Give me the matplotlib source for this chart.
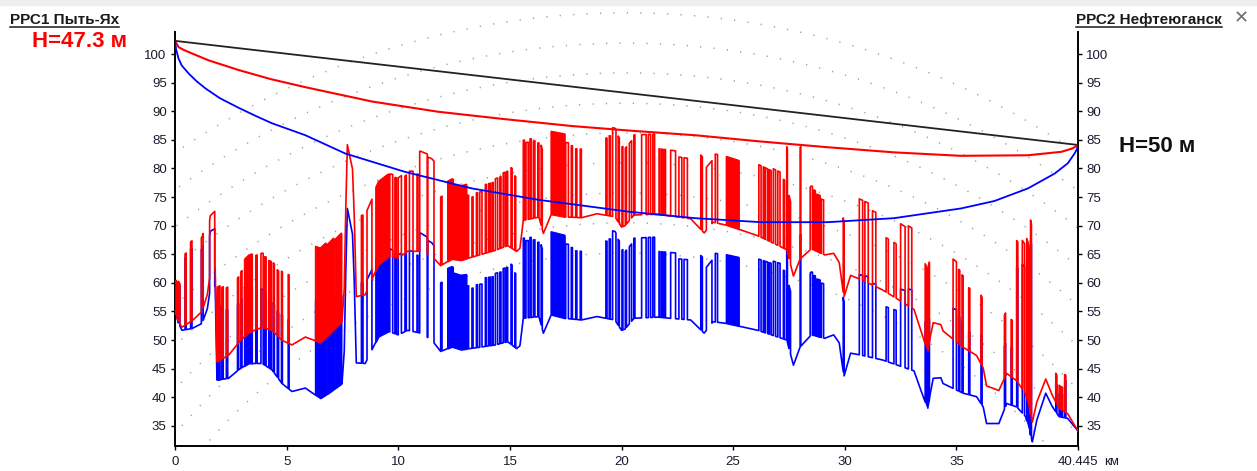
import numpy as np
import matplotlib
matplotlib.use("Agg")
import matplotlib.pyplot as plt
from matplotlib.patches import Arc, Rectangle
from matplotlib.lines import Line2D

plt.rcParams['font.family'] = ['Liberation Sans', 'DejaVu Sans']

# ---- data ----
PATH_KM = 40.445
H_LEFT, H_RIGHT = 47.3, 50          # antenna heights, m
BULGE_DIV = 22.65                   # d1*d2/BULGE_DIV -> earth bulge, m

# terrain (flat earth), km / m
GROUND_KM = [
    0.0, 0.15, 0.31, 0.76, 1.21, 1.45, 1.58, 1.8, 1.88, 2.4,
    2.85, 3.3, 3.9, 4.34, 4.79, 5.24, 5.84, 6.28, 6.51, 6.88,
    7.48, 7.58, 7.65, 7.72, 7.82, 7.95, 8.03, 8.12, 8.52, 8.82,
    9.12, 9.57, 9.99, 10.43, 11.0, 11.5, 11.9, 12.4, 12.8, 13.4,
    14.3, 14.9, 15.3, 15.45, 15.6, 16.3, 16.5, 16.85, 17.45, 18.2,
    18.9, 19.7, 20.0, 20.15, 20.56, 21.6, 23.1, 23.7, 24.1, 24.7,
    26.1, 27.4, 27.7, 28.0, 28.5, 29.1, 29.5, 29.75, 29.96, 30.26,
    30.68, 31.7, 33.1, 33.4, 33.7, 33.96, 34.3, 34.4, 35.3, 35.9,
    36.2, 36.35, 36.9, 37.25, 37.7, 38.1, 38.4, 38.6, 39.0, 39.3,
    39.6, 39.98, 40.445]
GROUND_M = [
    55.0, 53.0, 51.7, 52.0, 52.9, 55.5, 59.0, 59.5, 43.0, 43.3,
    44.8, 45.9, 45.9, 44.8, 42.4, 41.0, 41.6, 40.4, 39.8, 40.7,
    42.4, 48.0, 62.0, 73.0, 71.0, 68.5, 60.0, 46.0, 45.9, 48.3,
    50.6, 51.5, 50.9, 51.7, 51.2, 50.0, 48.0, 48.8, 48.3, 48.6,
    49.1, 49.7, 48.5, 49.0, 53.8, 54.1, 51.2, 54.4, 53.8, 53.5,
    54.1, 53.5, 51.7, 51.9, 53.8, 54.0, 53.5, 51.2, 53.2, 52.9,
    51.7, 50.0, 45.6, 48.8, 50.9, 50.3, 50.9, 49.5, 43.6, 47.7,
    47.4, 46.5, 44.6, 41.3, 38.1, 43.3, 43.4, 42.4, 40.7, 40.1,
    38.3, 35.4, 35.4, 38.9, 38.3, 36.6, 32.2, 36.0, 40.7, 38.3,
    36.6, 36.3, 34.1]

# forest blocks: (start km, end km, height m)
FOREST_DENSE = [
    (1.90, 2.00, 13), (3.12, 3.45, 13.5), (4.20, 4.30, 12),
    (6.30, 6.75, 16.5), (6.80, 7.10, 16), (7.15, 7.45, 15.5),
    (9.00, 9.55, 14.5), (12.22, 12.45, 14), (12.50, 13.05, 13),
    (16.85, 17.45, 14.5), (24.70, 25.25, 12), (28.75, 28.88, 10),
    (33.60, 33.78, 14), (38.15, 38.30, 28),
]
FOREST_SPARSE = [
    (0.05, 0.09, 6), (0.15, 0.22, 7), (0.45, 0.50, 12.5), (0.70, 0.76, 14),
    (1.18, 1.26, 13), (1.55, 1.78, 10), (2.10, 2.16, 12.5), (2.30, 2.36, 12),
    (2.80, 2.85, 11.5), (2.95, 3.00, 12), (3.62, 3.68, 13), (3.85, 3.95, 13),
    (4.02, 4.08, 12.5), (4.40, 4.45, 12), (4.58, 4.64, 11.5), (4.77, 4.81, 12),
    (5.07, 5.11, 12), (8.35, 8.42, 14), (8.60, 8.82, 14), (9.62, 9.75, 14.5),
    (9.85, 9.92, 14), (10.00, 10.14, 14), (10.30, 10.36, 13.5), (10.50, 10.66, 14),
    (10.84, 10.88, 13.5), (10.96, 11.30, 17.5), (11.32, 11.60, 17), (11.90, 11.96, 12),
    (13.10, 13.15, 11), (13.30, 13.35, 10.5), (13.50, 13.55, 11), (13.65, 13.75, 11),
    (13.90, 13.95, 12), (14.05, 14.12, 12), (14.20, 14.25, 12), (14.35, 14.45, 12.5),
    (14.55, 14.60, 12.5), (14.70, 14.78, 13), (14.85, 14.90, 13), (15.05, 15.10, 14),
    (15.22, 15.26, 13), (15.60, 15.65, 14), (15.72, 15.82, 13.5), (15.90, 15.95, 14),
    (16.05, 16.12, 13.5), (16.25, 16.30, 13), (16.40, 16.45, 14), (17.50, 17.62, 13),
    (17.75, 17.80, 12.5), (17.95, 18.00, 12), (18.15, 18.20, 12), (19.30, 19.35, 13.5),
    (19.45, 19.50, 14), (19.60, 19.75, 15.5), (19.85, 19.90, 15), (20.02, 20.06, 14),
    (20.17, 20.22, 13.5), (20.35, 20.45, 13.5), (20.55, 20.60, 14), (20.90, 21.10, 14),
    (21.20, 21.30, 14), (21.40, 21.48, 14), (21.68, 21.72, 11.5), (21.80, 21.85, 11.5),
    (21.92, 21.97, 11.5), (22.20, 22.42, 11.5), (22.57, 22.70, 10.5), (22.80, 22.95, 10.5),
    (23.55, 23.62, 13), (23.80, 24.05, 11), (24.20, 24.30, 12), (26.15, 26.25, 12.5),
    (26.35, 26.40, 12.5), (26.45, 26.55, 12.5), (26.62, 26.70, 12.5), (26.80, 26.90, 13),
    (27.00, 27.10, 13), (27.25, 27.30, 12), (27.40, 27.43, 18), (27.50, 27.57, 11),
    (28.00, 28.03, 19.5), (28.45, 28.55, 11), (28.62, 28.68, 10.5), (28.95, 29.05, 9.5),
    (29.93, 29.97, 13), (30.65, 30.80, 14), (30.90, 31.05, 14), (31.24, 31.39, 13),
    (31.85, 31.95, 9.5), (32.20, 32.30, 9.5), (32.50, 32.70, 13.5), (32.85, 33.00, 14),
    (34.85, 35.00, 14), (35.10, 35.15, 13), (35.25, 35.30, 12.5), (35.55, 35.60, 11),
    (36.10, 36.15, 12), (37.15, 37.20, 11), (37.45, 37.50, 10), (37.70, 37.75, 24.5),
    (37.95, 38.05, 26), (38.32, 38.36, 34), (39.45, 39.50, 5), (39.60, 39.65, 4),
    (39.70, 39.75, 4), (39.85, 39.90, 6.5),
]

# clearance curves
RED_CURVE_KM = [0, 0.16, 0.4, 0.76, 1.5, 2.85, 4.3, 5.84, 8.82, 11.8, 14.8,
                17.8, 20.4, 23.3, 26.25, 29.24, 32.23, 35.2, 38.2, 39.7,
                40.2, 40.445]
RED_CURVE_M = [102.3, 101.2, 100.7, 100.1, 98.9, 97.2, 95.6, 94.2, 91.7, 89.9,
               88.6, 87.4, 86.6, 85.8, 84.7, 83.7, 82.8, 82.2, 82.3, 82.9,
               83.5, 84.1]
BLUE_CURVE_KM = [0, 0.05, 0.16, 0.3, 0.61, 0.95, 1.36, 2.0, 2.85, 3.6, 4.34,
                 5.84, 7.63, 10.3, 13.3, 16.3, 20.4, 23.3, 26.25, 29.24, 32.2,
                 35.2, 36.7, 38.2, 39.4, 39.99, 40.29, 40.4, 40.445]
BLUE_CURVE_M = [102.3, 100.8, 99.2, 98.0, 96.6, 95.3, 94.0, 92.3, 90.6, 89.2,
                87.9, 85.8, 82.6, 79.4, 76.5, 74.5, 72.4, 71.3, 70.6, 70.6,
                71.3, 73.0, 74.3, 76.5, 79.1, 80.9, 82.6, 83.4, 84.1]

X_TICKS = [0, 5, 10, 15, 20, 25, 30, 35, 40.445]
X_LABELS = ['0', '5', '10', '15', '20', '25', '30', '35', '40.445']
Y_TICKS = list(range(35, 101, 5))

# background arcs (tops, m)
ARC_TOPS = [107.2, 101.9, 96.7, 91.4, 86.2, 81.0, 75.7, 70.5, 65.2]
ARC_CENTER = (20.2, -32.2)
ARC_ASPECT = 5.72 / 22.33

RED = '#ff0000'
BLUE = '#0000ff'
TXT = '#1a1a2e'

# ---- figure ----
W, H = 1257, 471
fig = plt.figure(figsize=(W / 100, H / 100), dpi=100)
fig.patches.append(Rectangle((0, 1 - 5 / H), 1, 5 / H, transform=fig.transFigure,
                             color='#efefef', zorder=0))
ax = fig.add_axes([175 / W, 25 / H, 903 / W, 439 / H])
ax.set_xlim(0, PATH_KM)
ax.set_ylim(31.47, 108.22)

for top in ARC_TOPS:
    b = top - ARC_CENTER[1]
    a = b * ARC_ASPECT
    ax.add_patch(Arc(ARC_CENTER, 2 * a, 2 * b, theta1=0, theta2=180,
                     ls=(0, (0.8, 8)), lw=1.1, color='#a0a0a0', zorder=1))


def ground(x):
    return np.interp(x, GROUND_KM, GROUND_M)


def bulge(x):
    x = np.asarray(x, dtype=float)
    return x * (PATH_KM - x) / BULGE_DIV


stripes = sorted(FOREST_DENSE + FOREST_SPARSE)
pts = []
for gx, gy in zip(GROUND_KM, GROUND_M):
    h = 0
    for x0, x1, hh in stripes:
        if x0 < gx < x1:
            h = hh
    pts.append((gx, 1, gy + h))
for x0, x1, h in stripes:
    g0, g1 = ground(x0), ground(x1)
    pts += [(x0, 0, g0), (x0, 2, g0 + h), (x1, 0, g1 + h), (x1, 2, g1)]
pts.sort(key=lambda p: (p[0], p[1]))
px = np.array([p[0] for p in pts])
py = np.array([p[2] for p in pts])

for shift, color, z in ((0, BLUE, 3), (1, RED, 4)):
    off = bulge(px) * shift
    ax.plot(px, py + off, color=color, lw=1.2, zorder=z)
    for x0, x1, h in FOREST_DENSE:
        xs = np.array([x0] + [g for g in GROUND_KM if x0 < g < x1] + [x1])
        gy = ground(xs) + bulge(xs) * shift
        ax.fill_between(xs, gy, gy + h, color=color, lw=0.8, zorder=z)

ax.plot([0, PATH_KM], [GROUND_M[0] + H_LEFT, GROUND_M[-1] + H_RIGHT],
        color='#222222', lw=1.3, zorder=5)
ax.plot(RED_CURVE_KM, RED_CURVE_M, color=RED, lw=1.5, zorder=5)
ax.plot(BLUE_CURVE_KM, BLUE_CURVE_M, color=BLUE, lw=1.3, zorder=5)

# axes styling
ax.spines['top'].set_visible(False)
for s in ('left', 'right'):
    ax.spines[s].set_bounds(31.47, 103.8)
for s in ('left', 'right', 'bottom'):
    ax.spines[s].set_linewidth(1.4)
ax.set_yticks(Y_TICKS)
ax.set_xticks(X_TICKS)
ax.set_xticklabels(X_LABELS)
ax.tick_params(axis='y', left=True, right=True, labelleft=True, labelright=True,
               direction='out', length=3, width=1, pad=3, labelsize=9.5,
               labelcolor=TXT)
ax.tick_params(axis='x', direction='out', length=3, width=1, pad=4.5,
               labelsize=9.5, labelcolor=TXT)
ax.annotate('км', xy=(1, 0), xycoords='axes fraction', xytext=(26, -10),
            textcoords='offset pixels', ha='left', va='top', fontsize=9.5,
            color=TXT)

# station labels
t1 = fig.text(10 / W, 1 - 24 / H, 'РРС1 Пыть-Ях', fontsize=11, fontweight='bold',
              color='#1a1a1a', va='baseline', ha='left')
t2 = fig.text(1222 / W, 1 - 24 / H, 'РРС2 Нефтеюганск', fontsize=11,
              fontweight='bold', color='#1a1a1a', va='baseline', ha='right')
fig.text(32 / W, 1 - 47 / H, 'H=47.3 м', fontsize=16, fontweight='bold',
         color=RED, va='baseline', ha='left')
fig.text(1119 / W, 1 - 152 / H, 'H=50 м', fontsize=16, fontweight='bold',
         color='#111111', va='baseline', ha='left')
fig.text(1241 / W, 1 - 18 / H, '✕', fontsize=13, fontweight='bold',
         color='#707070', va='center', ha='center', family='DejaVu Sans')

fig.canvas.draw()
inv = fig.transFigure.inverted()
for t in (t1, t2):
    bb = t.get_window_extent()
    (x0, _), (x1, _) = inv.transform([(bb.x0, 0), (bb.x1, 0)])
    yl = 1 - 26.5 / H
    fig.add_artist(Line2D([x0, x1], [yl, yl], color='#1a1a1a', lw=1.1))

fig.savefig('out.png', dpi=100, facecolor='white')
